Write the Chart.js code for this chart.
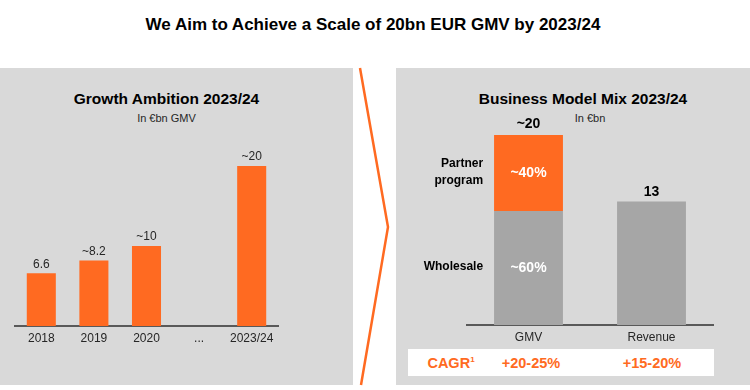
<!DOCTYPE html>
<html>
<head>
<meta charset="utf-8">
<script src="https://cdn.jsdelivr.net/npm/chart.js@4.4.1/dist/chart.umd.min.js"></script>
<style>
  body { margin: 0; width: 750px; height: 390px; background: #fff; position: relative; overflow: hidden;
         font-family: "Liberation Sans", Arial, sans-serif; color: #000; }
  .abs { position: absolute; }
  .title { left: 0; width: 746px; top: 15px; text-align: center; font-size: 17px; font-weight: bold; }
  .panel { background: #d9d9d9; top: 68px; height: 317px; }
  .ptitle { font-size: 15.5px; font-weight: bold; text-align: center; }
  .psub { font-size: 11px; text-align: center; color: #262626; }
  .cagr { left: 408px; top: 349px; width: 306px; height: 27px; background: #fff; }
  .cagr span { position: absolute; top: 6px; font-size: 14.5px; font-weight: bold; color: #ff6a21; transform: translateX(-50%); white-space: nowrap; }
  .cagr sup { font-size: 8px; vertical-align: 6px; }
</style>
</head>
<body>
<div class="abs title">We Aim to Achieve a Scale of 20bn EUR GMV by 2023/24</div>

<div class="abs panel" style="left:0;width:353px"></div>
<div class="abs panel" style="left:396px;width:354px"></div>

<svg class="abs" style="left:0;top:0" width="750" height="390">
  <polyline points="360,68 388,227 361,385" fill="none" stroke="#ff6a21" stroke-width="2.5"/>
</svg>

<div class="abs ptitle" style="left:0;width:333px;top:90px">Growth Ambition 2023/24</div>
<div class="abs psub" style="left:0;width:333px;top:112px">In €bn GMV</div>

<div class="abs ptitle" style="left:476px;width:214px;top:90px">Business Model Mix 2023/24</div>
<div class="abs psub" style="left:560px;width:60px;top:112px">In €bn</div>

<div class="abs" style="left:0;top:68px;width:353px;height:317px"><canvas id="growthChart"></canvas></div>
<div class="abs" style="left:396px;top:68px;width:354px;height:317px"><canvas id="mixChart"></canvas></div>

<div class="abs cagr">
  <span style="left:43px">CAGR<sup>1</sup></span>
  <span style="left:123px">+20-25%</span>
  <span style="left:244px">+15-20%</span>
</div>

<script>
// growth ambition (left)
var years = ['2018', '2019', '2020', '...', '2023/24'];
var gmv = [6.6, 8.2, 10, null, 20];
var gmvLabels = ['6.6', '~8.2', '~10', '', '~20'];

// business model mix (right)
var mixCategories = ['GMV', 'Revenue'];
var wholesale = [12, null];
var partner = [8, null];
var revenue = [null, 13];
var mixTotals = ['~20', '13'];
var segmentNames = ['Wholesale', 'Partner\nprogram'];
var segmentShares = ['~60%', '~40%'];

var ORANGE = '#ff6a21',
    GREY = '#a6a6a6';

var growthChart = document.getElementById('growthChart').getContext('2d'),
    mixChart = document.getElementById('mixChart').getContext('2d');

function xAxis() {
    return {
        grid: { display: false, drawTicks: false },
        border: { display: true, color: '#595959', width: 2 },
        ticks: { color: '#262626', font: { family: 'Liberation Sans', size: 12 }, padding: 5, autoSkip: false, maxRotation: 0 },
        afterFit: function(scale) { scale.height = 30; }
    };
}

var growthLabels = {
    id: 'growthLabels',
    afterDatasetsDraw: function(chart) {
        var ctx = chart.ctx;
        var meta = chart.getDatasetMeta(0);
        ctx.save();
        ctx.font = '12px "Liberation Sans"';
        ctx.fillStyle = '#262626';
        ctx.textAlign = 'center';
        ctx.textBaseline = 'bottom';
        meta.data.forEach(function(bar, i) {
            if (gmv[i] == null) return;
            ctx.fillText(gmvLabels[i], bar.x, bar.y - 3);
        });
        ctx.restore();
    }
};

new Chart(growthChart, {
    type: 'bar',
    data: {
        labels: years,
        datasets: [{
            data: gmv,
            backgroundColor: ORANGE,
            categoryPercentage: 0.8,
            barPercentage: 0.69
        }]
    },
    options: {
        responsive: true,
        maintainAspectRatio: false,
        animation: false,
        plugins: { legend: { display: false }, tooltip: { enabled: false } },
        layout: { padding: { left: 15, right: 75, top: 58, bottom: 29 } },
        scales: {
            x: xAxis(),
            y: { display: false, min: 0, max: 25 }
        }
    },
    plugins: [growthLabels]
});

var mixLabels = {
    id: 'mixLabels',
    afterDatasetsDraw: function(chart) {
        var ctx = chart.ctx;
        ctx.save();
        ctx.textAlign = 'center';
        ctx.textBaseline = 'middle';

        // segment shares inside the GMV bar, names to the left
        [0, 1].forEach(function(d) {
            var bar = chart.getDatasetMeta(d).data[0];
            var midY = (bar.y + bar.base) / 2;
            ctx.font = 'bold 14px "Liberation Sans"';
            ctx.fillStyle = '#fff';
            ctx.textAlign = 'center';
            ctx.fillText(segmentShares[d], bar.x, midY);
            ctx.font = 'bold 12px "Liberation Sans"';
            ctx.fillStyle = '#000';
            ctx.textAlign = 'right';
            var lines = segmentNames[d].split('\n');
            lines.forEach(function(l, k) {
                ctx.fillText(l, bar.x - bar.width / 2 - 11, midY + (k - (lines.length - 1) / 2) * 17 - 1);
            });
        });

        // totals above bars
        ctx.font = 'bold 14px "Liberation Sans"';
        ctx.fillStyle = '#000';
        ctx.textAlign = 'center';
        ctx.textBaseline = 'bottom';
        var top = chart.getDatasetMeta(1).data[0];
        ctx.fillText(mixTotals[0], top.x, top.y - 4);
        var rev = chart.getDatasetMeta(2).data[1];
        ctx.fillText(mixTotals[1], rev.x, rev.y - 2);
        ctx.restore();
    }
};

new Chart(mixChart, {
    type: 'bar',
    data: {
        labels: mixCategories,
        datasets: [
            { label: 'Wholesale', data: wholesale, backgroundColor: GREY },
            { label: 'Partner program', data: partner, backgroundColor: ORANGE },
            { label: 'Revenue', data: revenue, backgroundColor: GREY }
        ]
    },
    options: {
        responsive: true,
        maintainAspectRatio: false,
        animation: false,
        datasets: { bar: { categoryPercentage: 0.8, barPercentage: 0.7 } },
        plugins: { legend: { display: false }, tooltip: { enabled: false } },
        layout: { padding: { left: 71, right: 37, top: 48, bottom: 30 } },
        scales: {
            x: Object.assign(xAxis(), { stacked: true }),
            y: { display: false, stacked: true, min: 0, max: 22 }
        }
    },
    plugins: [mixLabels]
});
</script>
</body>
</html>
